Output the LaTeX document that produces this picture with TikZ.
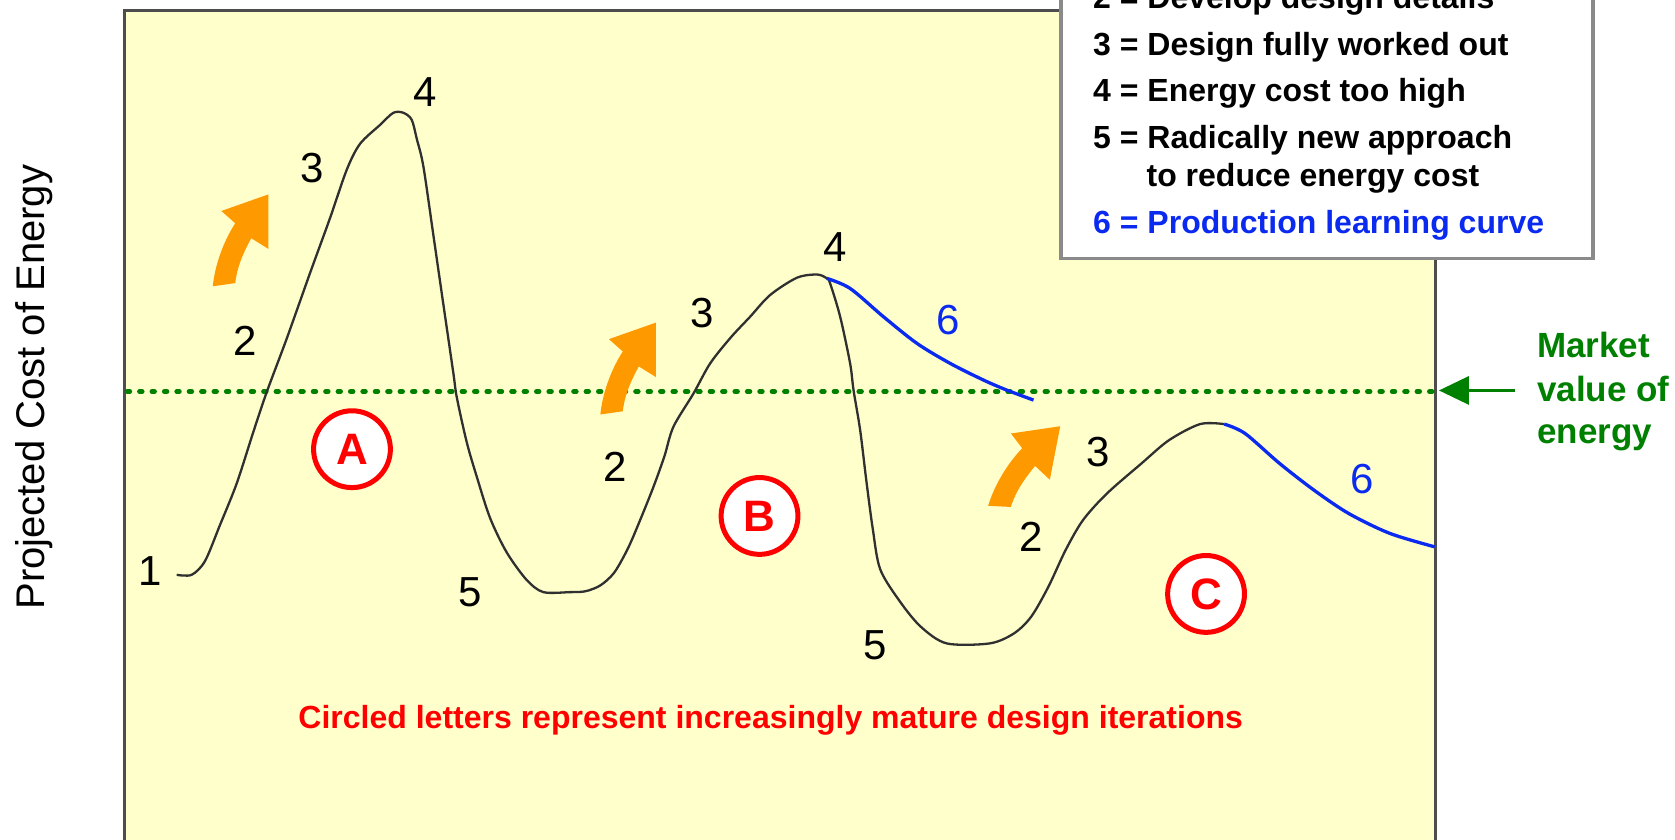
\documentclass[tikz,border=0pt]{standalone}
\usepackage{fontspec}
\setmainfont{Liberation Sans}
\usepackage{tikz}
\usetikzlibrary{arrows.meta}
\definecolor{panelgelb}{HTML}{FFFFCC}
\definecolor{rahmengrau}{HTML}{4D4D4D}
\definecolor{legendgrau}{HTML}{8A8A8A}
\definecolor{kurvengrau}{HTML}{303030}
\definecolor{lernblau}{HTML}{0A2AF0}
\definecolor{marktgruen}{HTML}{008000}
\definecolor{iterrot}{HTML}{FF0000}
\definecolor{pfeilorange}{HTML}{FF9900}

\begin{document}
\begin{tikzpicture}[x=0.534pt, y=-0.534pt,
				>={Triangle[length=15pt,width=14pt]},   %Pfeilspitze Marktwert
				ziffer/.style={inner sep=0pt, font=\fontsize{21}{21}\selectfont},
				iter/.style={circle, draw=iterrot, line width=2.5pt, fill=white, text=iterrot, minimum size=38.4pt, inner sep=0pt, font=\fontsize{22}{22}\selectfont\bfseries},
				legtext/.style={anchor=base west, inner sep=0pt, font=\fontsize{16}{16}\selectfont\bfseries},
				markt/.style={anchor=base west, inner sep=0pt, text=marktgruen, font=\fontsize{17.5}{17.5}\selectfont\bfseries}]
				\useasboundingbox (0,0) rectangle (1568,786);
				\clip (0,0) rectangle (1568,786);
				%Hintergrund
				\draw[rahmengrau, line width=1.5pt, fill=panelgelb] (117,820) -- (117,10) -- (1344,10) -- (1344,820);
				%Legende
				\draw[legendgrau, line width=1.8pt, fill=white] (993,-20) rectangle (1491,242);
				\foreach \n/\lx/\ly/\txt in {l2/1023/7.8/2 = Develop design details, l3/1023/51.5/3 = Design fully worked out, l4/1023/95.2/4 = Energy cost too high, l5/1023/138.9/5 = Radically new approach, l5b/1073/174.8/to reduce energy cost}
					\node[legtext] (\n) at (\lx,\ly) {\txt};
				\node[legtext, text=lernblau] (l6) at (1023,218.4) {6 = Production learning curve};
				% Marktwert
				\draw[marktgruen, line width=2.4pt, line cap=round, dash pattern=on 1.3pt off 4.9pt] (119,366.5) -- (1342,366.5);
				\coordinate (mwert) at (1347,365.5);
				\coordinate (mstart) at (1418.5,365.5);
				\draw[->, marktgruen, line width=1.6pt] (mstart) -- (mwert);
				\foreach \n/\my/\txt in {m1/335/Market, m2/376/value of, m3/415/energy}
					\node[markt] (\n) at (1438.6,\my) {\txt};
				%Kurven zeichnen
				\draw[kurvengrau, line width=1.15pt, line join=round] plot[smooth, tension=0.5] coordinates {(165.4,538.1) (179.4,538.1) (191.9,525.2) (206,491.3) (221.6,452.5) (237.2,404.2) (249.7,367) (268.4,317) (290.2,255.7) (309,204) (324.6,158.9) (337,134.7) (355.8,116.9) (368.2,105.6) (377.6,105.6) (385.4,112.1) (390.1,129.8) (396.3,155.6) (405.7,220.2) (415,284.7) (424.4,349.3) (427.6,371.9) (436.9,413.9) (446.3,446.2) (458.8,485) (474.4,517.2) (493.1,543) (508.7,554.3) (533.7,554.3) (548,553.5) (562,548) (575,536) (588,513) (600,485) (612,455) (622,427) (630.4,399.5) (649.2,368.3) (664.8,340.2) (684,316) (702.2,296.5) (720.9,276.2) (746,260) (765,257) (774,260.6) (777.1,265.3) (786.5,296.5) (795.8,340.2) (799,365.2) (805.2,402.6) (811,450) (817,495) (824,533) (842.6,563.3) (862,586.7) (886.2,602.3) (926.5,602.3) (949.1,593) (965.3,577.3) (981.4,549.3) (997.5,515) (1013.8,486.9) (1036.3,461.9) (1068.6,433.8) (1094.4,412) (1123.4,397) (1146,397)};
				\draw[lernblau, line width=1.65pt] plot[smooth, tension=0.5] coordinates {(774,260.6) (795.8,270) (827,296.5) (858.3,321.4) (889.5,340.2) (920.7,355.8) (942.5,365.2) (967.5,374.5)};
				\draw[lernblau, line width=1.65pt] plot[smooth, tension=0.5] coordinates {(1146,397) (1165.4,405.7) (1197.8,433.8) (1230,458.8) (1262.4,480.6) (1301,499.3) (1343,511.9)};
				% Ziffern an den Kurven
				\foreach \n/\px/\py/\z in {a1/140.4/535/1, a2/229.4/318.6/2, a3/291.8/157.3/3, a4/398/86/4, a5/440/554/5, b2/576/437/2, b3/657/293/3, b4/782/231/4, b5/819/604/5, c2/965.3/502.5/2, c3/1028/423/3}
					\node[ziffer] (\n) at (\px,\py) {\z};
				\node[ziffer, text=lernblau] (b6) at (888,299.6) {6};
				\node[ziffer, text=lernblau] (c6) at (1275,448) {6};
				% Pfeile
				\foreach \tx/\ty/\rot in {251.2/182/0, 614/302/0, 992.5/399/-11}
					\fill[pfeilorange, shift={(\tx,\ty)}, rotate=\rot] (0,0) -- (0,51) -- (-16,41) .. controls (-22,52) and (-29,66) .. (-31,83) -- (-52,86) .. controls (-50,66) and (-42,44) .. (-31,27) -- (-44,15.5) -- cycle;
				% Iterationen
				\node[iter] (iterA) at (329.5,420.5) {A};
				\node[iter] (iterB) at (711,483) {B};
				\node[iter] (iterC) at (1129,556) {C};
				\node[anchor=base, inner sep=0pt, text=iterrot, font=\fontsize{16}{16}\selectfont\bfseries] (hinweis) at (721.5,682) {Circled letters represent increasingly mature design iterations};
				% Achse beschriften
				\node[rotate=90, anchor=base, inner sep=0pt, font=\fontsize{20}{20}\selectfont] (ylabel) at (42,362.5) {Projected Cost of Energy};
			\end{tikzpicture}
\end{document}
